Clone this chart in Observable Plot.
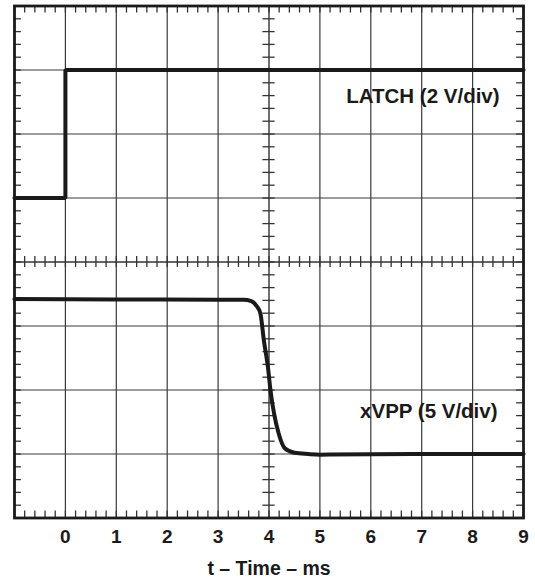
<!DOCTYPE html>
<html>
<head>
<meta charset="utf-8">
<script src="https://cdn.jsdelivr.net/npm/d3@7"></script>
<script src="https://cdn.jsdelivr.net/npm/@observablehq/plot@0.6"></script>
<style>
  html, body { margin: 0; padding: 0; background: #fff; }
  #chart { width: 535px; height: 583px; }
</style>
</head>
<body>
<div id="chart"></div>
<script>
// Time axis (ms) and division grid
const xTicks = [0, 1, 2, 3, 4, 5, 6, 7, 8, 9];
const xGrid = [0, 1, 2, 3, 5, 6, 7, 8];
const yGrid = [1, 2, 3, 5, 6, 7];
const xTitle = "t – Time – ms";

// LATCH trace (divisions from bottom)
const latchT = [-1, 0, 0, 9];
const latchV = [5, 5, 7, 7];

// xVPP trace (divisions from bottom)
const vppT = [-1, 1, 3.0, 3.5, 3.65, 3.75, 3.83, 3.90, 3.98, 4.03, 4.10, 4.19, 4.31, 4.5, 4.77, 5.0, 6.0, 7.0, 8.0, 9.0];
const vppV = [3.42, 3.415, 3.41, 3.41, 3.39, 3.32, 3.20, 2.77, 2.35, 1.99, 1.63, 1.32, 1.09, 1.02, 1.0, 0.99, 0.995, 1.0, 1.0, 1.0];

// Trace labels
const labelText = ["LATCH (2 V/div)", "xVPP (5 V/div)"];
const labelT = [8.53, 8.49];
const labelV = [6.58, 1.66];

const latch = latchT.map((t, i) => ({t, v: latchV[i]}));
const vpp = vppT.map((t, i) => ({t, v: vppV[i]}));
const labels = labelText.map((s, i) => ({s, t: labelT[i], v: labelV[i]}));

const minorX = d3.range(-1, 9.0001, 0.2).map(d => +d.toFixed(2));
const minorY = d3.range(0, 8.0001, 0.2).map(d => +d.toFixed(2));

const ink = "#1a1a1a";
const gridC = "#3a3a3a";
const edgeX = 0.135; // ~7px in x units
const edgeY = 0.11;  // ~7px in y units
const cenX = 0.12;
const cenY = 0.085;

const chart = Plot.plot({
  width: 535,
  height: 583,
  marginLeft: 14,
  marginRight: 12,
  marginTop: 5.5,
  marginBottom: 65.5,
  style: {fontFamily: "'Liberation Sans', Arial, sans-serif", fontWeight: "bold", background: "#fff", color: ink},
  x: {domain: [-1, 9]},
  y: {domain: [0, 8], axis: null},
  marks: [
    Plot.ruleX(xGrid, {stroke: gridC, strokeWidth: 1.2}),
    Plot.ruleY(yGrid, {stroke: gridC, strokeWidth: 1.2}),
    Plot.ruleX([4], {stroke: "#333", strokeWidth: 1.4}),
    Plot.ruleY([4], {stroke: "#333", strokeWidth: 1.4}),
    // edge minor ticks
    Plot.ruleX(minorX, {x: d => d, y1: 8, y2: 8 - edgeY, stroke: "#333", strokeWidth: 1.3}),
    Plot.ruleX(minorX, {x: d => d, y1: 0, y2: edgeY, stroke: "#333", strokeWidth: 1.3}),
    Plot.ruleY(minorY, {y: d => d, x1: -1, x2: -1 + edgeX, stroke: "#333", strokeWidth: 1.3}),
    Plot.ruleY(minorY, {y: d => d, x1: 9, x2: 9 - edgeX, stroke: "#333", strokeWidth: 1.3}),
    // center-line minor ticks
    Plot.ruleX(minorX, {x: d => d, y1: 4 - cenY, y2: 4 + cenY, stroke: "#333", strokeWidth: 1.3}),
    Plot.ruleY(minorY, {y: d => d, x1: 4 - cenX, x2: 4 + cenX, stroke: "#333", strokeWidth: 1.3}),
    // traces
    Plot.line(latch, {x: "t", y: "v", stroke: ink, strokeWidth: 4, strokeLinejoin: "miter"}),
    Plot.line(vpp, {x: "t", y: "v", stroke: ink, strokeWidth: 4, curve: "monotone-x"}),
    Plot.text(labels, {x: "t", y: "v", text: "s", textAnchor: "end", fontSize: 20.5, fontWeight: "bold", fill: ink}),
    Plot.frame({stroke: ink, strokeWidth: 2.8}),
    Plot.axisX(xTicks, {
      tickSize: 0, tickPadding: 11, fontSize: 19, fontWeight: "bold",
      label: null, tickFormat: d => String(d)
    }),
    Plot.text([xTitle], {frameAnchor: "bottom", dy: 56.5, fontSize: 19.5, fontWeight: "bold", fill: ink})
  ]
});
document.getElementById("chart").appendChild(chart);
</script>
</body>
</html>
